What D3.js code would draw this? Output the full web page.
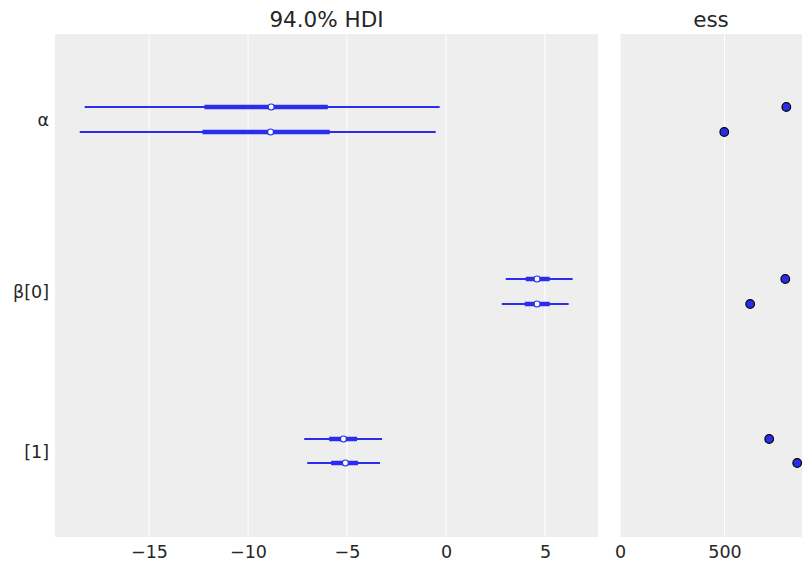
<!DOCTYPE html>
<html><head><meta charset="utf-8">
<script src="https://cdn.jsdelivr.net/npm/d3@7"></script>
<style>body{margin:0;background:#fff}svg{display:block}</style>
</head><body>
<script>
// Data
const labels = ["α", "β[0]", "[1]"];
const chains = [0, 1];
const hdiLow  = [[-18.25, -18.5], [3.02, 2.82], [-7.16, -7.01]];
const iqrLow  = [[-12.2, -12.3], [4.03, 3.98], [-5.90, -5.80]];
const medians = [[-8.83, -8.86], [4.60, 4.60], [-5.18, -5.08]];
const iqrHigh = [[-5.97, -5.87], [5.24, 5.24], [-4.49, -4.44]];
const hdiHigh = [[-0.32, -0.52], [6.40, 6.20], [-3.23, -3.33]];
const essVals = [[796, 499], [791, 623], [714, 848]];
const xTicks = [-15, -10, -5, 0, 5];
const essTicks = [0, 500];

(function () {
const W = 811, H = 571;
const svg = d3.select("body").append("svg").attr("width", W).attr("height", H);
const font = "DejaVu Sans, sans-serif";
const textCol = "#262626";
const blue = "#2a2eec";

const pTop = 34, pBottom = 537;
const x = d3.scaleLinear().domain([-19.75, 7.68]).range([55, 598]);
const xe = d3.scaleLinear().domain([0, 871]).range([620, 802]);
const rowPos = [[107, 132], [279, 304], [439, 463]];

function panel(sc, ticks, title) {
  const [x0, x1] = sc.range();
  const g = svg.append("g");
  g.append("rect").attr("x", x0).attr("y", pTop).attr("width", x1 - x0).attr("height", pBottom - pTop).attr("fill", "#eeeeee");
  g.selectAll("line.grid").data(ticks).join("line")
    .attr("x1", d => sc(d)).attr("x2", d => sc(d)).attr("y1", pTop).attr("y2", pBottom)
    .attr("stroke", "#ffffff").attr("stroke-width", 1);
  const ax = d3.axisBottom(sc).tickValues(ticks).tickSize(0).tickPadding(8)
    .tickFormat(d => String(d).replace("-", "−"));
  const a = svg.append("g").attr("transform", `translate(0,${pBottom})`).call(ax);
  a.select(".domain").remove();
  a.selectAll("text").attr("font-family", font).attr("font-size", 17.5).attr("fill", textCol)
    .attr("y", 21).attr("dy", 0);
  svg.append("text").attr("x", (x0 + x1) / 2).attr("y", 27).attr("text-anchor", "middle")
    .attr("font-family", font).attr("font-size", 21.5).attr("fill", textCol).text(title);
}
panel(x, xTicks, "94.0% HDI");
panel(xe, essTicks, "ess");

svg.selectAll("text.ylab").data(labels).join("text")
  .attr("x", 49).attr("y", (d, i) => (rowPos[i][0] + rowPos[i][1]) / 2)
  .attr("dy", "0.38em").attr("text-anchor", "end")
  .attr("font-family", font).attr("font-size", 17.5).attr("fill", textCol).text(d => d);

const rows = [];
labels.forEach((l, i) => chains.forEach(c => rows.push({
  i, c, yy: rowPos[i][c], lo: hdiLow[i][c], q1: iqrLow[i][c], m: medians[i][c],
  q3: iqrHigh[i][c], hi: hdiHigh[i][c], ess: essVals[i][c]
})));

const g = svg.append("g");
g.selectAll("line.hdi").data(rows).join("line")
  .attr("x1", d => x(d.lo)).attr("x2", d => x(d.hi)).attr("y1", d => d.yy).attr("y2", d => d.yy)
  .attr("stroke", blue).attr("stroke-width", 2);
g.selectAll("line.iqr").data(rows).join("line")
  .attr("x1", d => x(d.q1)).attr("x2", d => x(d.q3)).attr("y1", d => d.yy).attr("y2", d => d.yy)
  .attr("stroke", blue).attr("stroke-width", 4.5);
g.selectAll("circle.med").data(rows).join("circle")
  .attr("cx", d => x(d.m)).attr("cy", d => d.yy).attr("r", 3)
  .attr("fill", "#ffffff").attr("stroke", blue).attr("stroke-width", 1.2);
g.selectAll("circle.ess").data(rows).join("circle")
  .attr("cx", d => xe(d.ess)).attr("cy", d => d.yy).attr("r", 4.3)
  .attr("fill", blue).attr("stroke", "#000").attr("stroke-width", 1.2);
})();
</script>
</body></html>
